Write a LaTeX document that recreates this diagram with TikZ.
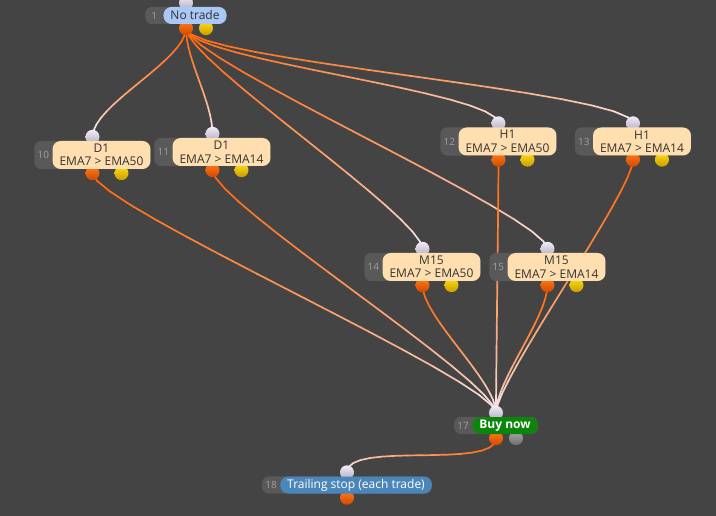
\documentclass[tikz,border=0pt]{standalone}
\usepackage{fontspec}
\setmainfont{Open Sans}
\usetikzlibrary{calc}

\definecolor{bgdark}{HTML}{444444}
\definecolor{tabgrey}{HTML}{595959}
\definecolor{numgrey}{HTML}{A0A0A0}
\definecolor{peach}{HTML}{FFDFAF}
\definecolor{skyblue}{HTML}{A9C8F5}
\definecolor{buygreen}{HTML}{0A870A}
\definecolor{stopblue}{HTML}{4A86B9}
\definecolor{textdark}{HTML}{333333}
\definecolor{wireorange}{HTML}{FF6608}
\definecolor{wirepale}{HTML}{F6EEF6}
\definecolor{lavtop}{HTML}{F0ECF6}
\definecolor{lavbot}{HTML}{B4ACC4}
\definecolor{orangetop}{HTML}{FF7A1A}
\definecolor{orangebot}{HTML}{D24A00}
\definecolor{yellowtop}{HTML}{FFDD10}
\definecolor{yellowbot}{HTML}{C89E00}
\definecolor{greytop}{HTML}{A8A8A8}
\definecolor{greybot}{HTML}{6E6E6E}

\pgfdeclarelayer{canvas}
\pgfdeclarelayer{wires}
\pgfdeclarelayer{ports}
\pgfsetlayers{canvas,wires,ports,main}

\tikzset{
  pill/.style={rounded corners=8pt, inner xsep=7pt, inner ysep=0pt,
    minimum height=17pt, align=center, text=textdark,
    font=\fontsize{12}{13.5}\selectfont},
  twoline/.style={fill=peach, minimum width=97pt, minimum height=28pt},
  buynode/.style={fill=buygreen, text=white,
    font=\fontsize{12}{13.5}\selectfont\bfseries},
  stopnode/.style={fill=stopblue, text=white},
  tabfill/.style={fill=tabgrey, rounded corners=7pt},
  numlabel/.style={text=numgrey, inner sep=0pt,
    font=\fontsize{10}{12}\selectfont},
  port/.style={circle, inner sep=0pt, minimum size=14pt},
  inport/.style={port, top color=lavtop, bottom color=lavbot},
  outport/.style={port, top color=orangetop, bottom color=orangebot},
  yellowport/.style={port, top color=yellowtop, bottom color=yellowbot},
  greyport/.style={port, top color=greytop, bottom color=greybot},
  wire/.style={line width=1.7pt, line cap=round},
}

% block: name, number, pill centre, pill style, text
\newcommand{\flowblock}[5]{%
  \node[pill, #4] (#1) at (#3) {#5};
  \begin{pgfonlayer}{ports}
    \fill[tabfill] ($(#1.north west)+(-18,0)$) rectangle (#1.south east);
    \node[numlabel] at ($(#1.west)+(-9,0)$) {#2};
    \node[inport] (#1-in) at ($(#1.north)+(-9,-4)$) {};
    \node[outport] (#1-out) at ($(#1.south)+(-9,4)$) {};
  \end{pgfonlayer}
}

% wire from an output port to an input port, orange fading to pale
\newcommand{\wire}[2]{%
  \foreach \k in {0,...,16}
    \path (#1.center) .. controls +(0,32) and +(0,-32) .. (#2.center)
      coordinate[pos=\k/16] (w\k);
  \foreach \k [evaluate=\k as \kn using int(\k+1),
               evaluate=\k as \mix using int(100*(1-((\k+0.5)/16)^1.5))] in {0,...,15}
    \draw[wire, draw=wireorange!\mix!wirepale] (w\k) -- (w\kn);
}

\begin{document}
\begin{tikzpicture}[x=1pt, y=-1pt]
    \useasboundingbox (0,0) rectangle (716,516);
    \begin{pgfonlayer}{canvas}
        \fill[bgdark] (0,0) rectangle (716,516);
    \end{pgfonlayer}

    \flowblock{b1}{1}{195,15.5}{fill=skyblue}{No trade}
    \flowblock{b10}{10}{101.5,155}{twoline}{D1\\EMA7 > EMA50}
    \flowblock{b11}{11}{221.5,152}{twoline}{D1\\EMA7 > EMA14}
    \flowblock{b12}{12}{507.5,141.5}{twoline}{H1\\EMA7 > EMA50}
    \flowblock{b13}{13}{642,141.5}{twoline}{H1\\EMA7 > EMA14}
    \flowblock{b14}{14}{431.5,267}{twoline}{M15\\EMA7 > EMA50}
    \flowblock{b15}{15}{556.5,267}{twoline}{M15\\EMA7 > EMA14}
    \flowblock{b17}{17}{505,425.5}{buynode}{Buy now}
    \flowblock{b18}{18}{356,485}{stopnode}{Trailing stop (each trade)}

    % second output ports
    \begin{pgfonlayer}{ports}
        \node[yellowport] (b1-aux) at ($(b1-out)+(20,0)$) {};
        \node[yellowport] (b10-aux) at ($(b10-out)+(29,0)$) {};
        \node[yellowport] (b11-aux) at ($(b11-out)+(29,0)$) {};
        \node[yellowport] (b12-aux) at ($(b12-out)+(29,0)$) {};
        \node[yellowport] (b13-aux) at ($(b13-out)+(29,0)$) {};
        \node[yellowport] (b14-aux) at ($(b14-out)+(29,0)$) {};
        \node[yellowport] (b15-aux) at ($(b15-out)+(29,0)$) {};
        \node[greyport] (b17-aux) at ($(b17-out)+(20,0)$) {};
    \end{pgfonlayer}

    \begin{pgfonlayer}{wires}
        \wire{b1-out}{b10-in}
        \wire{b1-out}{b11-in}
        \wire{b1-out}{b12-in}
        \wire{b1-out}{b13-in}
        \wire{b1-out}{b14-in}
        \wire{b1-out}{b15-in}
        \wire{b10-out}{b17-in}
        \wire{b11-out}{b17-in}
        \wire{b12-out}{b17-in}
        \wire{b13-out}{b17-in}
        \wire{b14-out}{b17-in}
        \wire{b15-out}{b17-in}
        \wire{b17-out}{b18-in}
    \end{pgfonlayer}
\end{tikzpicture}
\end{document}
